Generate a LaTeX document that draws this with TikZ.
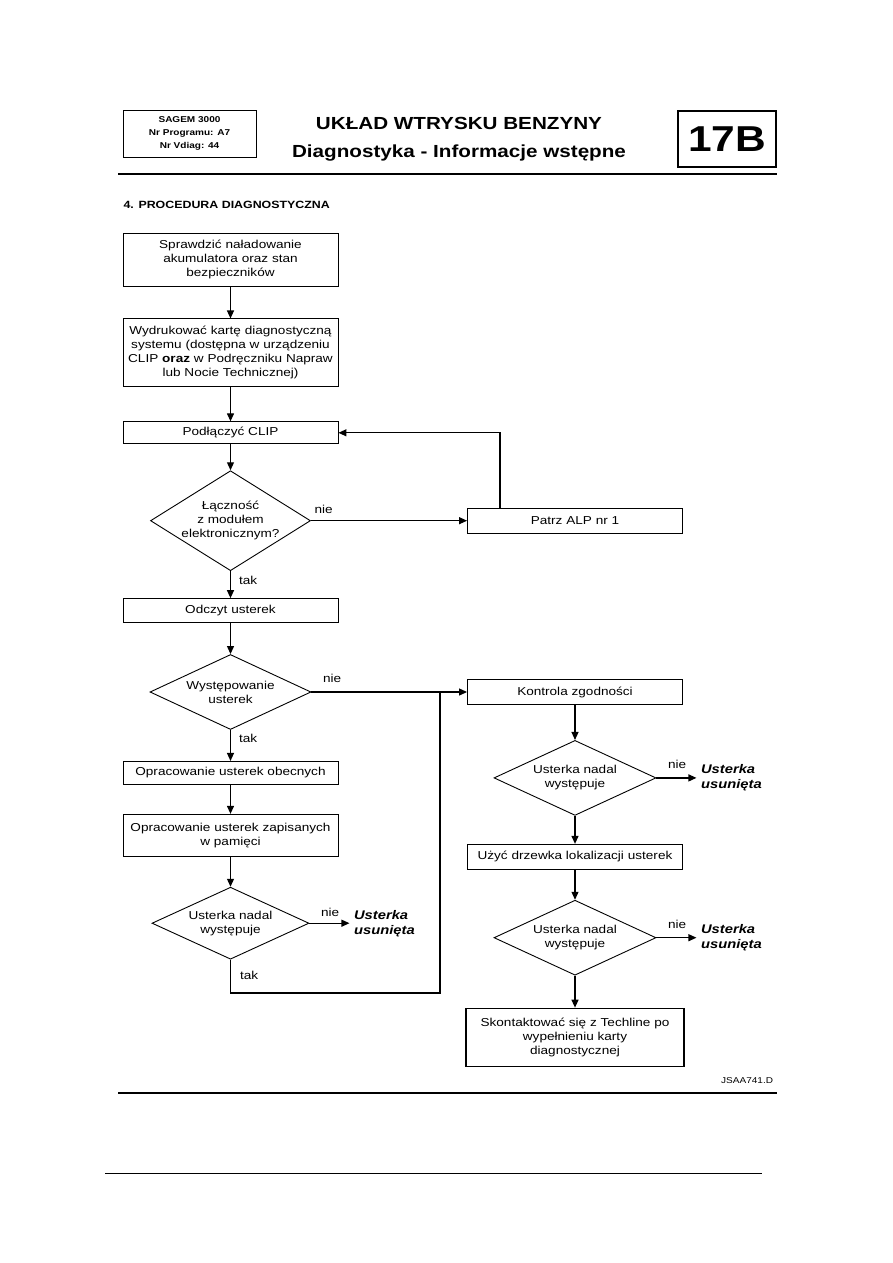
\documentclass[tikz,border=0pt]{standalone}
\usepackage{fontspec}
\setmainfont[FakeStretch=1.18]{Liberation Sans}
\usetikzlibrary{arrows.meta,positioning,shapes.geometric}

\begin{document}
\begin{tikzpicture}[x=1pt, y=-1pt,
  font=\fontsize{11.5}{14}\selectfont,
  box/.style={draw=black, line width=0.9pt, align=center, minimum width=215pt,
              text width=209pt, inner sep=2pt},
  dec/.style={draw=black, diamond, line width=0.9pt, align=center, inner sep=0pt},
  lbl/.style={inner sep=1pt},
  koniec/.style={font=\fontsize{12.5}{15}\selectfont\bfseries\itshape, align=left, inner sep=4pt},
  >={Triangle[length=8pt, width=7pt]}, line width=1.2pt]
  \useasboundingbox (0,0) rectangle (893,1263);

  % naglowek strony
  \node[draw, line width=0.8pt, minimum width=133pt, minimum height=47pt, align=center,
        font=\fontsize{8.5}{13}\selectfont\bfseries] (sagem) at (189.5,133.5)
        {SAGEM 3000\\Nr Programu: A7\\Nr Vdiag: 44};
  \node[font=\fontsize{17.5}{28}\selectfont\bfseries, align=center] (tytul) at (459,139)
        {UKŁAD WTRYSKU BENZYNY\\Diagnostyka - Informacje wstępne};
  \node[draw, line width=1.6pt, minimum width=98pt, minimum height=56pt,
        font=\fontsize{36}{36}\selectfont\bfseries] (rozdz) at (727,139) {17B};
  \draw[line width=2pt] (118,174) -- (777,174);
  \node[font=\fontsize{10.5}{12}\selectfont\bfseries, anchor=base west, inner sep=0pt] (proc)
        at (123,208) {4. PROCEDURA DIAGNOSTYCZNA};

  % lewa kolumna
  \node[box, minimum height=53pt] (spr) at (230.5,259.5)
        {Sprawdzić naładowanie\\akumulatora oraz stan\\bezpieczników};
  \node[box, minimum height=68pt, below=32pt of spr] (karta)
        {Wydrukować kartę diagnostyczną\\systemu (dostępna w urządzeniu\\CLIP \textbf{oraz} w Podręczniku Napraw\\lub Nocie Technicznej)};
  \node[box, minimum height=22pt, below=34pt of karta] (clip) {Podłączyć CLIP};
  \node[dec, minimum width=160pt, minimum height=100pt, aspect=1.6, inner xsep=-6pt,
        below=26pt of clip] (lacz) {Łączność\\z modułem\\elektronicznym?};
  \node[box, minimum height=24pt, below=27pt of lacz] (odczyt) {Odczyt usterek};
  \node[dec, minimum width=161pt, minimum height=75pt, aspect=2.1, below=31pt of odczyt] (wyst)
        {Występowanie\\usterek};
  \node[box, minimum height=23pt, below=31pt of wyst] (obecne) {Opracowanie usterek obecnych};
  \node[box, minimum height=42pt, below=29pt of obecne] (pamiec)
        {Opracowanie usterek zapisanych\\w pamięci};
  \node[dec, minimum width=157pt, minimum height=72pt, aspect=2.2, below=30pt of pamiec] (nadal1)
        {Usterka nadal\\występuje};
  \node[koniec, right=40pt of nadal1.east] (usun1) {Usterka\\usunięta};

  % prawa kolumna
  \coordinate (kol) at (575,0);
  \node[box, minimum height=25pt] (alp) at (lacz -| kol) {Patrz ALP nr 1};
  \node[box, minimum height=25pt] (zgod) at (wyst -| kol) {Kontrola zgodności};
  \node[dec, minimum width=162pt, minimum height=75pt, aspect=2.15, below=35pt of zgod] (nadal2)
        {Usterka nadal\\występuje};
  \node[koniec, right=40pt of nadal2.east] (usun2) {Usterka\\usunięta};
  \node[box, minimum height=25pt, below=28pt of nadal2] (drzewo) {Użyć drzewka lokalizacji usterek};
  \node[dec, minimum width=162pt, minimum height=75pt, aspect=2.15, below=30pt of drzewo] (nadal3)
        {Usterka nadal\\występuje};
  \node[koniec, right=40pt of nadal3.east] (usun3) {Usterka\\usunięta};
  \node[box, line width=1.7pt, minimum width=218pt, minimum height=58pt,
        below=32pt of nadal3] (techline)
        {Skontaktować się z Techline po\\wypełnieniu karty\\diagnostycznej};

  % polaczenia
  \draw[->] (spr) -- (karta);
  \draw[->] (karta) -- (clip);
  \draw[->] (clip) -- (lacz);
  \draw[->] (lacz) -- (odczyt);
  \draw[->] (odczyt) -- (wyst);
  \draw[->] (wyst) -- (obecne);
  \draw[->] (obecne) -- (pamiec);
  \draw[->] (pamiec) -- (nadal1);
  \draw[->] (lacz.east) -- (alp.west);
  \draw[->] ([xshift=-75pt]alp.north) |- (clip.east);
  \draw[->] (nadal1.east) -- (usun1.west);
  \coordinate (dol) at (440,993);
  \coordinate (wezel) at (dol |- zgod);
  \draw (nadal1.south) |- (dol) -- (wezel);
  \draw (wyst.east) -- (wezel);
  \draw[->] (wezel) -- (zgod.west);
  \draw[->] (zgod) -- (nadal2);
  \draw[->] (nadal2) -- (drzewo);
  \draw[->] (drzewo) -- (nadal3);
  \draw[->] (nadal3) -- (techline);
  \draw[->] (nadal2.east) -- (usun2.west);
  \draw[->] (nadal3.east) -- (usun3.west);

  % etykiety tak / nie
  \node[lbl, anchor=south west] at ([shift={(2pt,5pt)}]lacz.east) {nie};
  \node[lbl, anchor=south west] at ([shift={(10pt,8pt)}]wyst.east) {nie};
  \node[lbl, anchor=south west] at ([shift={(10pt,5pt)}]nadal1.east) {nie};
  \node[lbl, anchor=south west] at ([shift={(10pt,8pt)}]nadal2.east) {nie};
  \node[lbl, anchor=south west] at ([shift={(10pt,8pt)}]nadal3.east) {nie};
  \node[lbl, anchor=north west] at ([shift={(7pt,-3pt)}]lacz.south) {tak};
  \node[lbl, anchor=north west] at ([shift={(7pt,-3pt)}]wyst.south) {tak};
  \node[lbl, anchor=north west] at ([shift={(8pt,-10pt)}]nadal1.south) {tak};

  % stopka
  \node[font=\fontsize{8.5}{10}\selectfont, anchor=base east] (kod) at (777,1083) {JSAA741.D};
  \draw[line width=2pt] (118,1093) -- (777,1093);
  \draw[line width=0.7pt] (105,1173) -- (762,1173);
\end{tikzpicture}
\end{document}
